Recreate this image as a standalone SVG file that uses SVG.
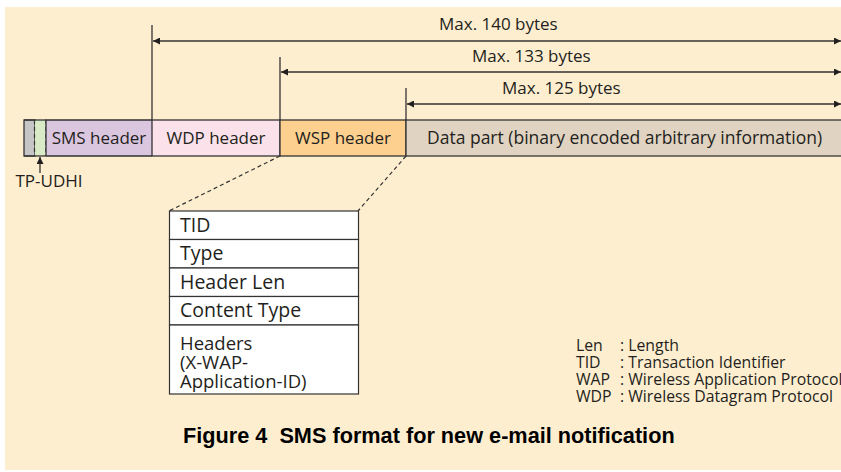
<svg xmlns="http://www.w3.org/2000/svg" width="841" height="472" viewBox="0 0 841 472">
<defs>
<style>
.t{font-family:"Open Sans","Noto Sans","Liberation Sans",sans-serif;fill:#231f20}
.bar{font-size:17px}
.box{font-size:19.5px}
.hdr{font-size:18.5px}
.leg{font-size:15.8px}
.cap{font-family:"Liberation Sans",Arial,sans-serif;font-weight:bold;font-size:21.7px;fill:#000}
.seg{stroke:#333;stroke-width:1.3}
.ln{stroke:#333;stroke-width:1.3;fill:none}
.dash{stroke:#333;stroke-width:1.2;fill:none;stroke-dasharray:4 3}
.row{fill:#fff;stroke:#333;stroke-width:1.2}
</style>
<marker id="ah" viewBox="0 0 10 10" refX="10" refY="5" markerWidth="9" markerHeight="7" markerUnits="userSpaceOnUse" orient="auto-start-reverse">
<path d="M0,0 L10,5 L0,10 z" fill="#231f20"/>
</marker>
</defs>
<rect x="0" y="0" width="841" height="472" fill="#fff"/>
<rect x="5" y="7" width="836" height="463" fill="#feeed0"/>

<g id="connectors">
<line class="ln" x1="152" y1="25" x2="152" y2="120"/>
<line class="ln" x1="280" y1="57" x2="280" y2="120"/>
<line class="ln" x1="406" y1="88" x2="406" y2="120"/>
<line class="ln" x1="153" y1="41" x2="841" y2="41" marker-start="url(#ah)" marker-end="url(#ah)"/>
<line class="ln" x1="281" y1="72" x2="841" y2="72" marker-start="url(#ah)" marker-end="url(#ah)"/>
<line class="ln" x1="407" y1="104" x2="841" y2="104" marker-start="url(#ah)" marker-end="url(#ah)"/>
<line class="ln" x1="40" y1="173" x2="40" y2="157" marker-end="url(#ah)"/>
<line class="dash" x1="280" y1="156" x2="169" y2="211"/>
<line class="dash" x1="406" y1="156" x2="358" y2="211"/>
</g>

<g id="labels">
<text class="t bar" x="439" y="30">Max. 140 bytes</text>
<text class="t bar" x="472" y="62">Max. 133 bytes</text>
<text class="t bar" x="502" y="94">Max. 125 bytes</text>
</g>

<g id="tp-udhi-seg">
<rect class="seg" x="24" y="120" width="11" height="36" fill="#c6c6c6"/>
<rect x="35" y="120" width="11" height="36" fill="#d9eac7"/>
<line class="dash" x1="34.5" y1="120" x2="34.5" y2="156"/>
<line class="dash" x1="46" y1="120" x2="46" y2="156"/>
<line class="ln" x1="24" y1="120" x2="46" y2="120"/>
<line class="ln" x1="24" y1="156" x2="46" y2="156"/>
</g>
<g id="sms-header">
<rect class="seg" x="46" y="120" width="106" height="36" fill="#dbc6e0" stroke-dasharray="106 36 106 0"/>
<text class="t bar" x="99" y="143.5" text-anchor="middle">SMS header</text>
</g>
<g id="wdp-header">
<rect class="seg" x="152" y="120" width="128" height="36" fill="#fbe2ea"/>
<text class="t bar" x="216" y="143.5" text-anchor="middle">WDP header</text>
</g>
<g id="wsp-header">
<rect class="seg" x="280" y="120" width="126" height="36" fill="#fed08f"/>
<text class="t bar" x="343" y="143.5" text-anchor="middle">WSP header</text>
</g>
<g id="data-part">
<rect class="seg" x="406" y="120" width="440" height="36" fill="#e0d3c2"/>
<text class="t bar" x="427" y="143.5" style="font-size:17.5px">Data part (binary encoded arbitrary information)</text>
</g>
<g id="tp-udhi">
<text class="t bar" x="15.5" y="187">TP-UDHI</text>
</g>

<g id="wsp-box">
<rect class="row" x="169.5" y="211" width="189" height="28.5"/>
<rect class="row" x="169.5" y="239.5" width="189" height="28.5"/>
<rect class="row" x="169.5" y="268" width="189" height="28.5"/>
<rect class="row" x="169.5" y="296.5" width="189" height="28.5"/>
<rect class="row" x="169.5" y="325" width="189" height="69"/>
<text class="t box" x="180" y="231.5">TID</text>
<text class="t box" x="180" y="260">Type</text>
<text class="t box" x="180" y="288.5">Header Len</text>
<text class="t box" x="180" y="317">Content Type</text>
<text class="t hdr" x="180" y="350">Headers</text>
<text class="t hdr" x="180" y="369">(X-WAP-</text>
<text class="t hdr" x="180" y="388">Application-ID)</text>
</g>

<g id="legend">
<text class="t leg" x="576" y="351">Len</text>
<text class="t leg" x="620" y="351">: Length</text>
<text class="t leg" x="576" y="368">TID</text>
<text class="t leg" x="620" y="368">: Transaction Identifier</text>
<text class="t leg" x="576" y="385">WAP</text>
<text class="t leg" x="620" y="385">: Wireless Application Protocol</text>
<text class="t leg" x="576" y="402">WDP</text>
<text class="t leg" x="620" y="402">: Wireless Datagram Protocol</text>
</g>

<g id="caption">
<text class="cap" x="183" y="443" xml:space="preserve">Figure 4  SMS format for new e-mail notification</text>
</g>
</svg>
